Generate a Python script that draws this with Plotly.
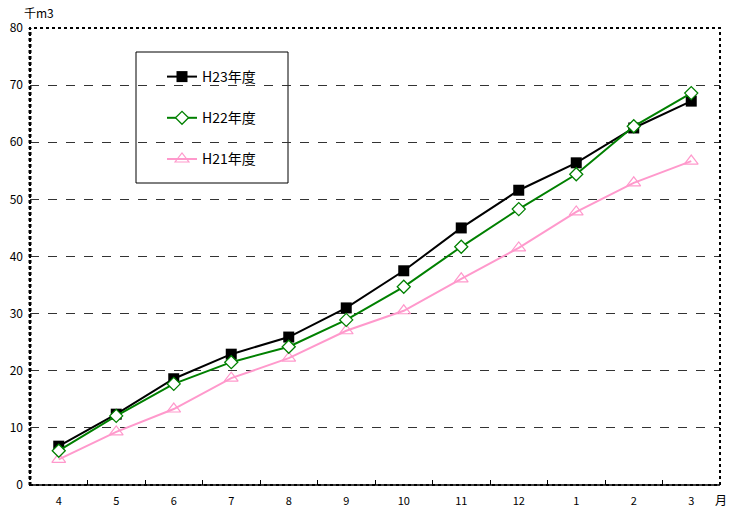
import plotly.graph_objects as go

months = ["4", "5", "6", "7", "8", "9", "10", "11", "12", "1", "2", "3"]
h23 = [6.8, 12.4, 18.6, 22.9, 25.9, 31.0, 37.5, 45.0, 51.6, 56.4, 62.5, 67.2]
h22 = [6.0, 12.1, 17.7, 21.5, 24.2, 28.9, 34.7, 41.7, 48.3, 54.4, 62.8, 68.6]
h21 = [4.5, 9.3, 13.3, 18.7, 22.2, 27.0, 30.5, 36.1, 41.5, 47.8, 52.9, 56.7]
y_ticks = [0, 10, 20, 30, 40, 50, 60, 70, 80]

FONT = "Noto Sans CJK JP"
W, H = 730, 510
L, R, T, B = 30, 10, 28, 25
pw, ph = W - L - R, H - T - B

def px_x(x):
    return (x - L) / pw

def px_y(y):
    return (H - B - y) / ph

fig = go.Figure()
fig.add_trace(go.Scatter(
    x=months, y=h21, name="H21年度", mode="lines+markers", legendrank=3,
    legendgroup="c",
    line=dict(color="#FF99CC", width=2),
    marker=dict(symbol="triangle-up-open", size=12, color="#FF99CC", line=dict(width=1.2)),
))
fig.add_trace(go.Scatter(
    x=months, y=h23, name="H23年度", mode="lines+markers", legendrank=1,
    legendgroup="a",
    line=dict(color="black", width=2),
    marker=dict(symbol="square", size=11, color="black"),
))
fig.add_trace(go.Scatter(
    x=months, y=h22, name="H22年度", mode="lines+markers", legendrank=2,
    legendgroup="b",
    line=dict(color="#008000", width=2),
    marker=dict(symbol="diamond", size=10, color="white", line=dict(color="#008000", width=1.3)),
))

fig.update_layout(
    width=W, height=H,
    margin=dict(l=L, r=R, t=T, b=B, autoexpand=False),
    paper_bgcolor="white", plot_bgcolor="white",
    font=dict(family=FONT, size=12, color="black"),
    showlegend=True,
    legend=dict(
        x=px_x(162), y=px_y(61), xanchor="left", yanchor="top",
        bgcolor="rgba(0,0,0,0)", borderwidth=0,
        tracegroupgap=20, traceorder="grouped",
        font=dict(family=FONT, size=14),
    ),
    xaxis=dict(
        type="category", range=[-0.5, 11.5], automargin=False,
        showgrid=False, zeroline=False, showline=False,
        ticks="inside", tickson="boundaries", ticklen=5, tickcolor="black",
        ticklabelstandoff=8,
        tickfont=dict(family=FONT, size=11),
    ),
    yaxis=dict(
        range=[0, 80], tickvals=y_ticks, automargin=False,
        showgrid=True, gridcolor="#333333", griddash="dash", gridwidth=1,
        zeroline=False, showline=False, ticks="",
        ticklabelstandoff=6,
        tickfont=dict(family=FONT, size=12),
    ),
    shapes=[
        dict(type="rect", xref="paper", yref="paper", x0=0, x1=1, y0=0, y1=1,
             line=dict(color="black", width=2, dash="dot"), layer="above"),
        dict(type="line", xref="paper", yref="paper", x0=0, x1=0, y0=0, y1=1,
             line=dict(color="black", width=3, dash="dot"), layer="above"),
        dict(type="line", xref="paper", yref="paper", x0=0, x1=1, y0=0, y1=0,
             line=dict(color="black", width=1.5), layer="above"),
        dict(type="rect", xref="paper", yref="paper",
             x0=px_x(136), x1=px_x(288), y0=px_y(183), y1=px_y(52),
             line=dict(color="black", width=1), fillcolor="white", layer="below"),
    ],
    annotations=[
        dict(text="千m3", xref="paper", yref="paper", x=px_x(22), y=px_y(12),
             xanchor="left", yanchor="middle", showarrow=False,
             font=dict(family=FONT, size=12)),
        dict(text="月", xref="paper", yref="paper", x=px_x(721), y=px_y(499),
             xanchor="center", yanchor="middle", showarrow=False,
             font=dict(family=FONT, size=12)),
    ],
)

fig.write_html(
    "out.html",
    config={"displayModeBar": False},
    post_script="document.body.style.margin='0';document.body.style.overflow='hidden';",
)
